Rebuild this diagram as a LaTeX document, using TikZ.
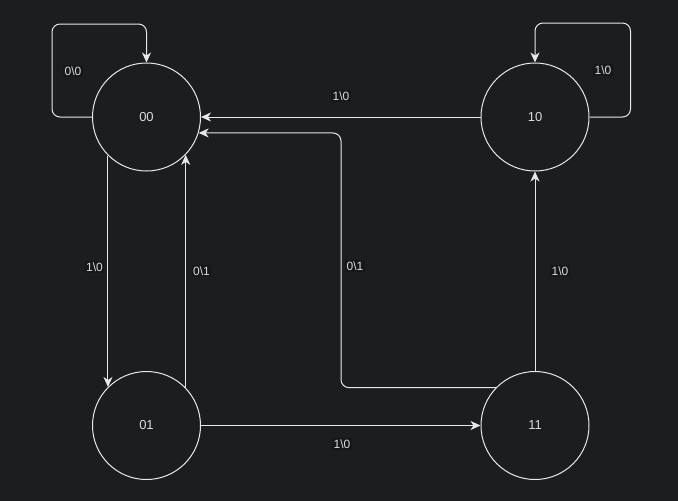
\documentclass[tikz,border=0pt]{standalone}
\usepackage{fontspec}
\setmainfont{Liberation Sans}
\usetikzlibrary{arrows.meta}
\definecolor{bg}{HTML}{1C1D1F}
\definecolor{lbg}{HTML}{161719}
\definecolor{fg}{HTML}{E8E8E8}
\definecolor{tfg}{HTML}{DCDCDC}
\tikzset{
  state/.style={circle,draw=fg,line width=1pt,minimum size=108pt,inner sep=0pt,text=tfg,font=\fontsize{13}{15}\selectfont},
  edge/.style={draw=fg,line width=1pt,-{Stealth[length=10pt,width=9pt,inset=3pt]},rounded corners=8pt},
  lab/.style={fill=lbg,text=tfg,inner sep=1.5pt,font=\fontsize{12}{14}\selectfont}
}
\begin{document}
\begin{tikzpicture}[x=1pt,y=-1pt]
\fill[bg] (0,0) rectangle (678,501);
\useasboundingbox (0,0) rectangle (678,501);
\node[state] (n00) at (146.5,117) {00};
\node[state] (n10) at (535,117) {10};
\node[state] (n01) at (146.5,425.5) {01};
\node[state] (n11) at (535,425.5) {11};
\coordinate (c1) at (341,133);
% self loops
\draw[edge] (n00.west) -- ++(-40,0) -- ++(0,-93) -| (n00.north);
\draw[edge] (n10.east) -- ++(41,0) -- ++(0,-94) -| (n10.north);
% edges
\draw[edge] (n10.west) -- (n00.east);
\draw[edge] (n11.136.7) -| (c1) -- (n00.-17.2);
\draw[edge] (n00.-135.5) -- (n01.135.5);
\draw[edge] (n01.44) -- (n00.-44);
\draw[edge] (n01.east) -- (n11.west);
\draw[edge] (n11.north) -- (n10.south);
% labels
\node[lab] (l1) at (73,71) {0\textbackslash 0};
\node[lab] (l2) at (603,70) {1\textbackslash 0};
\node[lab] (l3) at (341,96) {1\textbackslash 0};
\node[lab] (l4) at (355,266) {0\textbackslash 1};
\node[lab] (l5) at (94.5,267) {1\textbackslash 0};
\node[lab] (l6) at (201.5,271) {0\textbackslash 1};
\node[lab] (l7) at (342,444) {1\textbackslash 0};
\node[lab] (l8) at (560,271) {1\textbackslash 0};
\end{tikzpicture}
\end{document}
